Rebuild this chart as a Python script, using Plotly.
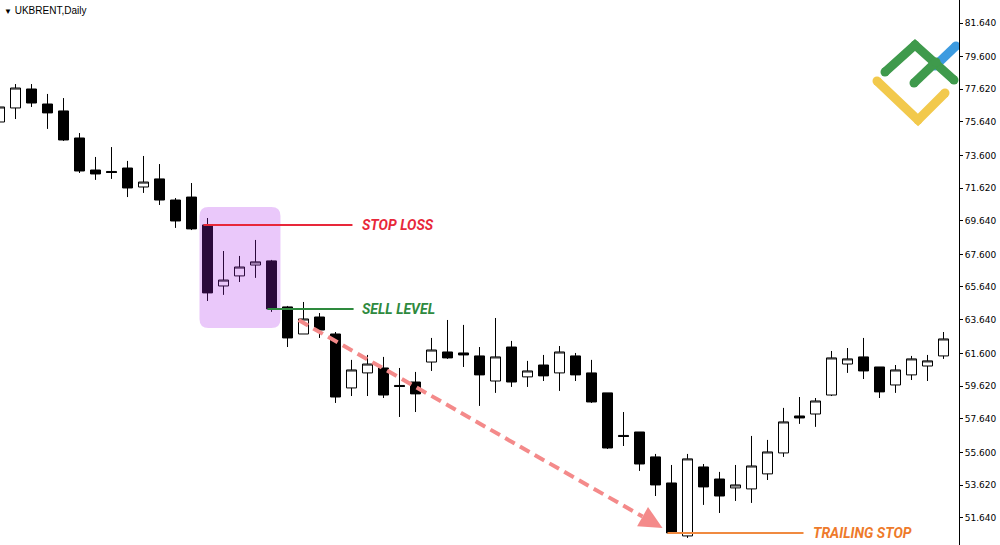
import plotly.graph_objects as go

# ---------------- data ----------------
candle_index = list(range(-1, 59))
open_ = [75.64, 76.49, 77.64, 76.73, 76.31, 74.67, 72.73, 72.64, 72.85, 71.70,
         72.19, 70.91, 71.09, 69.40, 65.70, 66.31, 66.97, 67.22, 64.43, 62.79,
         63.82, 62.79, 59.52, 60.43, 60.73, 59.67, 59.88, 61.09, 61.70, 61.64,
         61.46, 59.94, 62.00, 60.19, 60.91, 60.43, 61.46, 60.43, 59.22, 56.64,
         56.85, 55.34, 53.76, 50.55, 54.73, 54.00, 53.46, 53.40, 54.31, 55.58,
         57.82, 57.94, 59.09, 60.97, 61.40, 60.79, 59.70, 60.31, 60.85, 61.46]
high_ = [76.73, 77.94, 77.94, 77.34, 77.09, 74.97, 73.52, 74.12, 73.28, 73.58,
         73.09, 71.03, 71.94, 69.82, 67.82, 67.52, 68.49, 67.28, 64.49, 64.73,
         64.06, 62.91, 61.22, 61.52, 61.40, 60.73, 60.49, 62.55, 63.64, 63.34,
         62.00, 63.76, 62.37, 61.16, 61.52, 62.06, 61.64, 61.22, 59.22, 58.06,
         56.85, 55.52, 54.85, 55.52, 54.91, 54.43, 54.85, 56.61, 56.37, 58.31,
         58.97, 58.91, 61.76, 61.94, 62.55, 60.79, 60.91, 61.46, 61.52, 62.91]
low_ = [75.52, 75.82, 76.55, 75.22, 74.49, 72.55, 72.13, 72.19, 71.09, 71.34,
        70.61, 69.22, 69.09, 64.79, 65.16, 65.94, 66.19, 64.13, 62.00, 62.79,
        62.55, 58.61, 59.03, 59.03, 58.91, 57.76, 58.06, 60.55, 61.28, 60.79,
        58.43, 59.22, 59.58, 59.58, 59.94, 59.34, 59.94, 58.61, 55.82, 56.00,
        54.49, 52.97, 50.67, 50.43, 52.43, 51.94, 52.67, 52.55, 53.94, 55.34,
        57.34, 57.16, 59.03, 60.43, 60.06, 58.91, 59.22, 60.00, 59.94, 61.28]
close_ = [76.55, 77.70, 76.79, 76.19, 74.55, 72.67, 72.49, 72.58, 71.64, 72.00,
          70.91, 69.64, 69.16, 65.28, 66.06, 66.85, 67.16, 64.31, 62.55, 63.70,
          63.03, 58.97, 60.61, 60.97, 59.09, 59.61, 59.16, 61.82, 61.34, 61.52,
          60.31, 61.40, 59.88, 60.55, 60.25, 61.70, 60.31, 58.67, 55.88, 56.58,
          54.91, 53.64, 50.73, 55.22, 53.52, 52.97, 53.64, 54.79, 55.64, 57.46,
          57.70, 58.73, 61.34, 61.28, 60.55, 59.28, 60.61, 61.28, 61.16, 62.49]

tick_values = [51.64, 53.62, 55.60, 57.64, 59.62, 61.60, 63.64, 65.64,
               67.60, 69.64, 71.62, 73.60, 75.64, 77.62, 79.60, 81.64]
tick_labels = ["%.3f" % v for v in tick_values]

# trade levels
STOP_LOSS = 69.40
SELL_LEVEL = 64.31
TRAILING_STOP = 50.73
stop_loss_span = (11.75, 21.06)
sell_level_span = (15.75, 21.13)
trailing_span = (40.75, 49.25)
highlight_box = dict(x0=11.5, x1=16.56, y0=63.16, y1=70.49)
arrow_start = (17.69, 63.64)
arrow_tip = (40.44, 51.03)

X_RANGE = [-0.96875, 58.96875]
Y_RANGE = [50.0, 83.034]

W, H = 1000, 545
PLOT_W, PLOT_H = 959, 545
px_x = PLOT_W / (X_RANGE[1] - X_RANGE[0])
px_y = PLOT_H / (Y_RANGE[1] - Y_RANGE[0])

fig = go.Figure()

fig.add_trace(go.Candlestick(
    x=candle_index, open=open_, high=high_, low=low_, close=close_,
    increasing=dict(fillcolor="white", line=dict(color="black", width=1)),
    decreasing=dict(fillcolor="black", line=dict(color="black", width=1)),
    whiskerwidth=0, showlegend=False, hoverinfo="skip",
))

shapes = []
# purple highlight box (rounded corners)
rx, ry = 9 / px_x, 9 / px_y
b = highlight_box
x0, x1, y0, y1 = b["x0"], b["x1"], b["y0"], b["y1"]
path = (f"M {x0+rx},{y0} L {x1-rx},{y0} Q {x1},{y0} {x1},{y0+ry} "
        f"L {x1},{y1-ry} Q {x1},{y1} {x1-rx},{y1} L {x0+rx},{y1} "
        f"Q {x0},{y1} {x0},{y1-ry} L {x0},{y0+ry} Q {x0},{y0} {x0+rx},{y0} Z")
shapes.append(dict(type="path", path=path, xref="x", yref="y",
                   fillcolor="rgba(172,36,236,0.25)", line=dict(width=0),
                   layer="above"))

# level lines
shapes.append(dict(type="line", xref="x", yref="y", x0=stop_loss_span[0], x1=stop_loss_span[1],
                   y0=STOP_LOSS, y1=STOP_LOSS, line=dict(color="#e8283a", width=2), layer="above"))
shapes.append(dict(type="line", xref="x", yref="y", x0=sell_level_span[0], x1=sell_level_span[1],
                   y0=SELL_LEVEL, y1=SELL_LEVEL, line=dict(color="#2e8a3e", width=2), layer="above"))
shapes.append(dict(type="line", xref="x", yref="y", x0=trailing_span[0], x1=trailing_span[1],
                   y0=TRAILING_STOP, y1=TRAILING_STOP, line=dict(color="#f08a40", width=2), layer="above"))

# dashed arrow
sx, sy = arrow_start
tx, ty = arrow_tip
dxp, dyp = (tx - sx) * px_x, -(ty - sy) * px_y
L = (dxp ** 2 + dyp ** 2) ** 0.5
ux, uy = dxp / L, dyp / L
head_len, head_half = 23, 11
bx_p, by_p = -ux * head_len, -uy * head_len          # base center offset (pixels)
nx_p, ny_p = -uy * head_half, ux * head_half          # normal (pixels)
def to_data(ox, oy):
    return tx + ox / px_x, ty - oy / px_y
bcx, bcy = to_data(bx_p, by_p)
v1 = to_data(bx_p + nx_p, by_p + ny_p)
v2 = to_data(bx_p - nx_p, by_p - ny_p)
arrow_color = "#f48a8a"
shapes.append(dict(type="line", xref="x", yref="y", x0=sx, y0=sy, x1=bcx, y1=bcy,
                   line=dict(color=arrow_color, width=4, dash="11px,6px"), layer="above"))
shapes.append(dict(type="path", xref="x", yref="y",
                   path=f"M {tx},{ty} L {v1[0]},{v1[1]} L {v2[0]},{v2[1]} Z",
                   fillcolor=arrow_color, line=dict(width=0), layer="above"))

# ---------------- logo (pixel coordinates on overlay axes) ----------------
logo_parts = [
    ("#3d9be0", [(935, 66), (956, 46)]),
    ("#f2c94c", [(877, 81), (918, 120), (945, 93)]),
    ("#3f9a4c", [(885, 72), (915, 45), (954, 80)]),
    ("#3f9a4c", [(914, 83), (936, 62)]),
]
for color, pts in logo_parts:
    fig.add_trace(go.Scatter(
        x=[p[0] for p in pts], y=[p[1] for p in pts], xaxis="x2", yaxis="y2",
        mode="lines+markers", line=dict(color=color, width=9),
        marker=dict(color=color, size=9), showlegend=False, hoverinfo="skip"))

label_font = "Roboto, Liberation Sans, Arial"
annotations = [
    dict(text="<b><i>STOP LOSS</i></b>", x=21.5, y=STOP_LOSS, xref="x", yref="y",
         xanchor="left", yanchor="middle", showarrow=False,
         font=dict(family=label_font, size=14, color="#e8283a")),
    dict(text="<b><i>SELL LEVEL</i></b>", x=21.5, y=SELL_LEVEL, xref="x", yref="y",
         xanchor="left", yanchor="middle", showarrow=False,
         font=dict(family=label_font, size=14, color="#2e8a3e")),
    dict(text="<b><i>TRAILING STOP</i></b>", x=49.7, y=TRAILING_STOP, xref="x", yref="y",
         xanchor="left", yanchor="middle", showarrow=False,
         font=dict(family=label_font, size=14, color="#ee7a2a")),
    dict(text='<span style="font-size:8px">▼</span> UKBRENT,Daily',
         x=2 / PLOT_W, y=1 - 10 / PLOT_H, xref="paper", yref="paper",
         xanchor="left", yanchor="middle", showarrow=False,
         font=dict(family="Liberation Sans, Arial", size=10, color="black")),
]

fig.update_layout(
    width=W, height=H,
    margin=dict(l=0, r=W - PLOT_W, t=0, b=0),
    paper_bgcolor="white", plot_bgcolor="white",
    boxgap=0.375, boxgroupgap=0,
    xaxis=dict(range=X_RANGE, visible=False, showgrid=False, zeroline=False,
               rangeslider=dict(visible=False)),
    yaxis=dict(range=Y_RANGE, side="right", showgrid=False, zeroline=False,
               showline=True, linecolor="black", linewidth=1, mirror=False,
               ticks="outside", ticklen=3, tickcolor="black", tickwidth=1,
               tickvals=tick_values, ticktext=tick_labels,
               tickfont=dict(family="DejaVu Sans, Verdana", size=9, color="black")),
    xaxis2=dict(range=[0, PLOT_W], overlaying="x", visible=False, fixedrange=True),
    yaxis2=dict(range=[PLOT_H, 0], overlaying="y", visible=False, fixedrange=True),
    shapes=shapes, annotations=annotations,
    showlegend=False, hovermode=False,
)

fig.write_html("out.html", config={"displayModeBar": False},
               post_script="document.body.style.margin='0';")
